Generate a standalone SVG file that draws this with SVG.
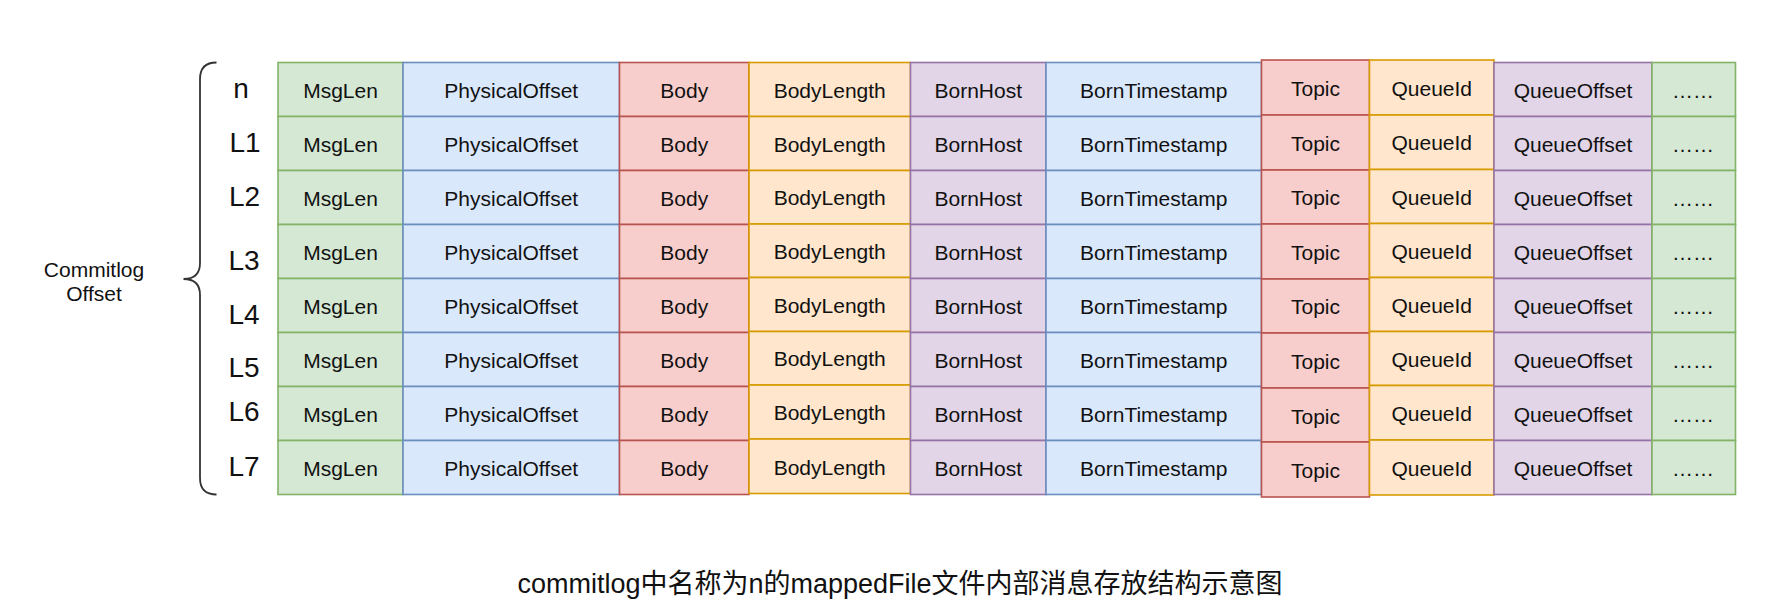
<svg xmlns="http://www.w3.org/2000/svg" width="1766" height="615" viewBox="0 0 1766 615">
<style>
.t{font-family:"Liberation Sans",Arial,sans-serif;font-size:21px;fill:#111;text-anchor:middle}
.lbl{font-family:"Liberation Sans",Arial,sans-serif;font-size:28px;fill:#111;text-anchor:middle}
.cap{font-family:"Liberation Sans","Noto Sans CJK SC",sans-serif;font-size:27px;fill:#111;text-anchor:middle}
rect{stroke-width:1.6}
.g{fill:#d5e8d4;stroke:#82b366}
.b{fill:#dae8fc;stroke:#6c8ebf}
.r{fill:#f8cecc;stroke:#b85450}
.o{fill:#ffe6cc;stroke:#d79b00}
.p{fill:#e1d5e7;stroke:#9673a6}
.brace{fill:none;stroke:#333;stroke-width:1.8}
</style>
<rect x="0" y="0" width="1766" height="615" fill="#fff" style="stroke:none"/>
<g id="offset-label">
<text class="t" x="94" y="277">Commitlog</text>
<text class="t" x="94" y="301">Offset</text>
</g>
<g id="brace">
<path class="brace" d="M216.5,62.5 Q200,62.5 200,79 L200,263 Q200,279 183.5,279 Q200,279 200,295 L200,478 Q200,494.5 216.5,494.5"/>
</g>
<g id="row-labels">
<text class="lbl" x="241" y="97.5">n</text>
<text class="lbl" x="245" y="151.5">L1</text>
<text class="lbl" x="244.5" y="205.5">L2</text>
<text class="lbl" x="244" y="269.5">L3</text>
<text class="lbl" x="244" y="323.5">L4</text>
<text class="lbl" x="244" y="377">L5</text>
<text class="lbl" x="244" y="421">L6</text>
<text class="lbl" x="244" y="476">L7</text>
</g>
<g id="connectors"/>
<g id="col-msglen">
<g id="msglen-0"><rect class="g" x="278" y="62.5" width="125" height="54"/><text class="t" x="340.5" y="97.5">MsgLen</text></g>
<g id="msglen-1"><rect class="g" x="278" y="116.5" width="125" height="54"/><text class="t" x="340.5" y="151.5">MsgLen</text></g>
<g id="msglen-2"><rect class="g" x="278" y="170.5" width="125" height="54"/><text class="t" x="340.5" y="205.5">MsgLen</text></g>
<g id="msglen-3"><rect class="g" x="278" y="224.5" width="125" height="54"/><text class="t" x="340.5" y="259.5">MsgLen</text></g>
<g id="msglen-4"><rect class="g" x="278" y="278.5" width="125" height="54"/><text class="t" x="340.5" y="313.5">MsgLen</text></g>
<g id="msglen-5"><rect class="g" x="278" y="332.5" width="125" height="54"/><text class="t" x="340.5" y="367.5">MsgLen</text></g>
<g id="msglen-6"><rect class="g" x="278" y="386.5" width="125" height="54"/><text class="t" x="340.5" y="421.5">MsgLen</text></g>
<g id="msglen-7"><rect class="g" x="278" y="440.5" width="125" height="54"/><text class="t" x="340.5" y="475.5">MsgLen</text></g>
</g>
<g id="col-physicaloffset">
<g id="phys-0"><rect class="b" x="403" y="62.5" width="216.5" height="54"/><text class="t" x="511.25" y="97.5">PhysicalOffset</text></g>
<g id="phys-1"><rect class="b" x="403" y="116.5" width="216.5" height="54"/><text class="t" x="511.25" y="151.5">PhysicalOffset</text></g>
<g id="phys-2"><rect class="b" x="403" y="170.5" width="216.5" height="54"/><text class="t" x="511.25" y="205.5">PhysicalOffset</text></g>
<g id="phys-3"><rect class="b" x="403" y="224.5" width="216.5" height="54"/><text class="t" x="511.25" y="259.5">PhysicalOffset</text></g>
<g id="phys-4"><rect class="b" x="403" y="278.5" width="216.5" height="54"/><text class="t" x="511.25" y="313.5">PhysicalOffset</text></g>
<g id="phys-5"><rect class="b" x="403" y="332.5" width="216.5" height="54"/><text class="t" x="511.25" y="367.5">PhysicalOffset</text></g>
<g id="phys-6"><rect class="b" x="403" y="386.5" width="216.5" height="54"/><text class="t" x="511.25" y="421.5">PhysicalOffset</text></g>
<g id="phys-7"><rect class="b" x="403" y="440.5" width="216.5" height="54"/><text class="t" x="511.25" y="475.5">PhysicalOffset</text></g>
</g>
<g id="col-body">
<g id="body-0"><rect class="r" x="619.5" y="62.5" width="129.5" height="54"/><text class="t" x="684.25" y="97.5">Body</text></g>
<g id="body-1"><rect class="r" x="619.5" y="116.5" width="129.5" height="54"/><text class="t" x="684.25" y="151.5">Body</text></g>
<g id="body-2"><rect class="r" x="619.5" y="170.5" width="129.5" height="54"/><text class="t" x="684.25" y="205.5">Body</text></g>
<g id="body-3"><rect class="r" x="619.5" y="224.5" width="129.5" height="54"/><text class="t" x="684.25" y="259.5">Body</text></g>
<g id="body-4"><rect class="r" x="619.5" y="278.5" width="129.5" height="54"/><text class="t" x="684.25" y="313.5">Body</text></g>
<g id="body-5"><rect class="r" x="619.5" y="332.5" width="129.5" height="54"/><text class="t" x="684.25" y="367.5">Body</text></g>
<g id="body-6"><rect class="r" x="619.5" y="386.5" width="129.5" height="54"/><text class="t" x="684.25" y="421.5">Body</text></g>
<g id="body-7"><rect class="r" x="619.5" y="440.5" width="129.5" height="54"/><text class="t" x="684.25" y="475.5">Body</text></g>
</g>
<g id="col-bodylength">
<g id="bodylen-0"><rect class="o" x="749" y="62.5" width="161.5" height="54"/><text class="t" x="829.75" y="97.5">BodyLength</text></g>
<g id="bodylen-1"><rect class="o" x="749" y="116.5" width="161.5" height="54"/><text class="t" x="829.75" y="151.5">BodyLength</text></g>
<g id="bodylen-2"><rect class="o" x="749" y="170.5" width="161.5" height="53.5"/><text class="t" x="829.75" y="205">BodyLength</text></g>
<g id="bodylen-3"><rect class="o" x="749" y="224" width="161.5" height="53.5"/><text class="t" x="829.75" y="258.5">BodyLength</text></g>
<g id="bodylen-4"><rect class="o" x="749" y="277.5" width="161.5" height="54"/><text class="t" x="829.75" y="312.5">BodyLength</text></g>
<g id="bodylen-5"><rect class="o" x="749" y="331.5" width="161.5" height="53.5"/><text class="t" x="829.75" y="366">BodyLength</text></g>
<g id="bodylen-6"><rect class="o" x="749" y="385" width="161.5" height="54"/><text class="t" x="829.75" y="420">BodyLength</text></g>
<g id="bodylen-7"><rect class="o" x="749" y="439" width="161.5" height="54.5"/><text class="t" x="829.75" y="474.5">BodyLength</text></g>
</g>
<g id="col-bornhost">
<g id="bornhost-0"><rect class="p" x="910.5" y="62.5" width="135.5" height="54"/><text class="t" x="978.25" y="97.5">BornHost</text></g>
<g id="bornhost-1"><rect class="p" x="910.5" y="116.5" width="135.5" height="54"/><text class="t" x="978.25" y="151.5">BornHost</text></g>
<g id="bornhost-2"><rect class="p" x="910.5" y="170.5" width="135.5" height="54"/><text class="t" x="978.25" y="205.5">BornHost</text></g>
<g id="bornhost-3"><rect class="p" x="910.5" y="224.5" width="135.5" height="54"/><text class="t" x="978.25" y="259.5">BornHost</text></g>
<g id="bornhost-4"><rect class="p" x="910.5" y="278.5" width="135.5" height="54"/><text class="t" x="978.25" y="313.5">BornHost</text></g>
<g id="bornhost-5"><rect class="p" x="910.5" y="332.5" width="135.5" height="54"/><text class="t" x="978.25" y="367.5">BornHost</text></g>
<g id="bornhost-6"><rect class="p" x="910.5" y="386.5" width="135.5" height="54"/><text class="t" x="978.25" y="421.5">BornHost</text></g>
<g id="bornhost-7"><rect class="p" x="910.5" y="440.5" width="135.5" height="54"/><text class="t" x="978.25" y="475.5">BornHost</text></g>
</g>
<g id="col-borntimestamp">
<g id="borntime-0"><rect class="b" x="1046" y="62.5" width="215.5" height="54"/><text class="t" x="1153.75" y="97.5">BornTimestamp</text></g>
<g id="borntime-1"><rect class="b" x="1046" y="116.5" width="215.5" height="54"/><text class="t" x="1153.75" y="151.5">BornTimestamp</text></g>
<g id="borntime-2"><rect class="b" x="1046" y="170.5" width="215.5" height="54"/><text class="t" x="1153.75" y="205.5">BornTimestamp</text></g>
<g id="borntime-3"><rect class="b" x="1046" y="224.5" width="215.5" height="54"/><text class="t" x="1153.75" y="259.5">BornTimestamp</text></g>
<g id="borntime-4"><rect class="b" x="1046" y="278.5" width="215.5" height="54"/><text class="t" x="1153.75" y="313.5">BornTimestamp</text></g>
<g id="borntime-5"><rect class="b" x="1046" y="332.5" width="215.5" height="54"/><text class="t" x="1153.75" y="367.5">BornTimestamp</text></g>
<g id="borntime-6"><rect class="b" x="1046" y="386.5" width="215.5" height="54"/><text class="t" x="1153.75" y="421.5">BornTimestamp</text></g>
<g id="borntime-7"><rect class="b" x="1046" y="440.5" width="215.5" height="54"/><text class="t" x="1153.75" y="475.5">BornTimestamp</text></g>
</g>
<g id="col-topic">
<g id="topic-0"><rect class="r" x="1261.5" y="60" width="108" height="55"/><text class="t" x="1315.5" y="95.5">Topic</text></g>
<g id="topic-1"><rect class="r" x="1261.5" y="115" width="108" height="55"/><text class="t" x="1315.5" y="150.5">Topic</text></g>
<g id="topic-2"><rect class="r" x="1261.5" y="170" width="108" height="54"/><text class="t" x="1315.5" y="205">Topic</text></g>
<g id="topic-3"><rect class="r" x="1261.5" y="224" width="108" height="55"/><text class="t" x="1315.5" y="259.5">Topic</text></g>
<g id="topic-4"><rect class="r" x="1261.5" y="279" width="108" height="54"/><text class="t" x="1315.5" y="314">Topic</text></g>
<g id="topic-5"><rect class="r" x="1261.5" y="333" width="108" height="55"/><text class="t" x="1315.5" y="368.5">Topic</text></g>
<g id="topic-6"><rect class="r" x="1261.5" y="388" width="108" height="54"/><text class="t" x="1315.5" y="423.5">Topic</text></g>
<g id="topic-7"><rect class="r" x="1261.5" y="442" width="108" height="55"/><text class="t" x="1315.5" y="478">Topic</text></g>
</g>
<g id="col-queueid">
<g id="queueid-0"><rect class="o" x="1369.5" y="60" width="124.5" height="55"/><text class="t" x="1431.75" y="95.5">QueueId</text></g>
<g id="queueid-1"><rect class="o" x="1369.5" y="115" width="124.5" height="54.5"/><text class="t" x="1431.75" y="150">QueueId</text></g>
<g id="queueid-2"><rect class="o" x="1369.5" y="169.5" width="124.5" height="54"/><text class="t" x="1431.75" y="204.5">QueueId</text></g>
<g id="queueid-3"><rect class="o" x="1369.5" y="223.5" width="124.5" height="54"/><text class="t" x="1431.75" y="258.5">QueueId</text></g>
<g id="queueid-4"><rect class="o" x="1369.5" y="277.5" width="124.5" height="54"/><text class="t" x="1431.75" y="312.5">QueueId</text></g>
<g id="queueid-5"><rect class="o" x="1369.5" y="331.5" width="124.5" height="54"/><text class="t" x="1431.75" y="366.5">QueueId</text></g>
<g id="queueid-6"><rect class="o" x="1369.5" y="385.5" width="124.5" height="54.5"/><text class="t" x="1431.75" y="420.5">QueueId</text></g>
<g id="queueid-7"><rect class="o" x="1369.5" y="440" width="124.5" height="55"/><text class="t" x="1431.75" y="475.5">QueueId</text></g>
</g>
<g id="col-queueoffset">
<g id="queueoff-0"><rect class="p" x="1494" y="62.5" width="158" height="54"/><text class="t" x="1573" y="97.5">QueueOffset</text></g>
<g id="queueoff-1"><rect class="p" x="1494" y="116.5" width="158" height="54"/><text class="t" x="1573" y="151.5">QueueOffset</text></g>
<g id="queueoff-2"><rect class="p" x="1494" y="170.5" width="158" height="54"/><text class="t" x="1573" y="205.5">QueueOffset</text></g>
<g id="queueoff-3"><rect class="p" x="1494" y="224.5" width="158" height="54"/><text class="t" x="1573" y="259.5">QueueOffset</text></g>
<g id="queueoff-4"><rect class="p" x="1494" y="278.5" width="158" height="54"/><text class="t" x="1573" y="313.5">QueueOffset</text></g>
<g id="queueoff-5"><rect class="p" x="1494" y="332.5" width="158" height="54"/><text class="t" x="1573" y="367.5">QueueOffset</text></g>
<g id="queueoff-6"><rect class="p" x="1494" y="386.5" width="158" height="54"/><text class="t" x="1573" y="421.5">QueueOffset</text></g>
<g id="queueoff-7"><rect class="p" x="1494" y="440.5" width="158" height="54"/><text class="t" x="1573" y="475.5">QueueOffset</text></g>
</g>
<g id="col-more">
<g id="more-0"><rect class="g" x="1652" y="62.5" width="83.5" height="54"/><text class="t" x="1693" y="97.5">……</text></g>
<g id="more-1"><rect class="g" x="1652" y="116.5" width="83.5" height="54"/><text class="t" x="1693" y="151.5">……</text></g>
<g id="more-2"><rect class="g" x="1652" y="170.5" width="83.5" height="54"/><text class="t" x="1693" y="205.5">……</text></g>
<g id="more-3"><rect class="g" x="1652" y="224.5" width="83.5" height="54"/><text class="t" x="1693" y="259.5">……</text></g>
<g id="more-4"><rect class="g" x="1652" y="278.5" width="83.5" height="54"/><text class="t" x="1693" y="313.5">……</text></g>
<g id="more-5"><rect class="g" x="1652" y="332.5" width="83.5" height="54"/><text class="t" x="1693" y="367.5">……</text></g>
<g id="more-6"><rect class="g" x="1652" y="386.5" width="83.5" height="54"/><text class="t" x="1693" y="421.5">……</text></g>
<g id="more-7"><rect class="g" x="1652" y="440.5" width="83.5" height="54"/><text class="t" x="1693" y="475.5">……</text></g>
</g>
<g id="caption">
<text class="cap" x="900" y="593">commitlog中名称为n的mappedFile文件内部消息存放结构示意图</text>
</g>
</svg>
